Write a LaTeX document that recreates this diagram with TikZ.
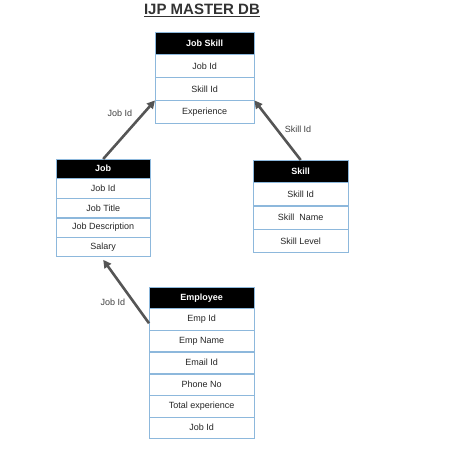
\documentclass[tikz,border=0pt]{standalone}
\usepackage{fontspec}
\setmainfont{Liberation Sans}
\usetikzlibrary{positioning,arrows.meta}
\definecolor{rowblue}{HTML}{8DB8DC}
\definecolor{linkgray}{HTML}{555555}
\begin{document}
\begin{tikzpicture}
        [x=1pt, y=-1pt,
        row/.style={draw=rowblue, fill=white, inner sep=0pt, font=\fontsize{9}{10}\selectfont, text=black!85},
        head/.style={row, fill=black, text=white, font=\fontsize{9}{10}\selectfont\bfseries},
        link/.style={draw=linkgray, line width=2.6pt, -{Triangle[length=8pt,width=8pt]}},
        linkLabel/.style={font=\fontsize{9}{10}\selectfont, text=black!75}]
        \useasboundingbox (0,0) rectangle (460,465);
        \node[font=\fontsize{15}{17}\selectfont\bfseries, text=black!80] (title) at (202,10) {\underline{IJP MASTER DB}};

        % Job Skill
        \node[head, minimum width=99, minimum height=22, anchor=north west] (js) at (155,32) {Job Skill};
        \node[row, minimum width=99, minimum height=22.6, below=0pt of js] (js1) {Job Id};
        \node[row, minimum width=99, minimum height=22.6, below=0pt of js1] (js2) {Skill Id};
        \node[row, minimum width=99, minimum height=22.6, below=0pt of js2] (js3) {Experience};

        % Job
        \node[head, minimum width=94, minimum height=19, anchor=north west] (job) at (56,159) {Job};
        \node[row, minimum width=94, minimum height=19.2, below=0pt of job] (job1) {Job Id};
        \node[row, minimum width=94, minimum height=19.2, below=0pt of job1] (job2) {Job Title};
        \node[row, minimum width=94, minimum height=19.2, below=0pt of job2] (job3) {Job Description};
        \node[row, minimum width=94, minimum height=19.2, below=0pt of job3] (job4) {Salary};

        % Skill
        \node[head, minimum width=95, minimum height=22, anchor=north west] (sk) at (253,160) {Skill};
        \node[row, minimum width=95, minimum height=23, below=0pt of sk] (sk1) {Skill Id};
        \node[row, minimum width=95, minimum height=23, below=0pt of sk1] (sk2) {Skill\ \ Name};
        \node[row, minimum width=95, minimum height=23, below=0pt of sk2] (sk3) {Skill Level};

        % Employee
        \node[head, minimum width=105, minimum height=21, anchor=north west] (emp) at (149,287) {Employee};
        \node[row, minimum width=105, minimum height=21.3, below=0pt of emp] (emp1) {Emp Id};
        \node[row, minimum width=105, minimum height=21.3, below=0pt of emp1] (emp2) {Emp Name};
        \node[row, minimum width=105, minimum height=21.3, below=0pt of emp2] (emp3) {Email Id};
        \node[row, minimum width=105, minimum height=21.3, below=0pt of emp3] (emp4) {Phone No};
        \node[row, minimum width=105, minimum height=21.3, below=0pt of emp4] (emp5) {Total experience};
        \node[row, minimum width=105, minimum height=21.3, below=0pt of emp5] (emp6) {Job Id};

        \draw[link] (job.north) -- (js3.north west);
        \draw[link] (sk.north) -- (js3.north east);
        \draw[link] ([yshift=-4pt]emp1.west) -- ([yshift=-3pt]job4.south);

        \node[linkLabel] (l1) at (120,113) {Job Id};
        \node[linkLabel] (l2) at (298,129) {Skill Id};
        \node[linkLabel] (l3) at (113,302) {Job Id};
\end{tikzpicture}
\end{document}
